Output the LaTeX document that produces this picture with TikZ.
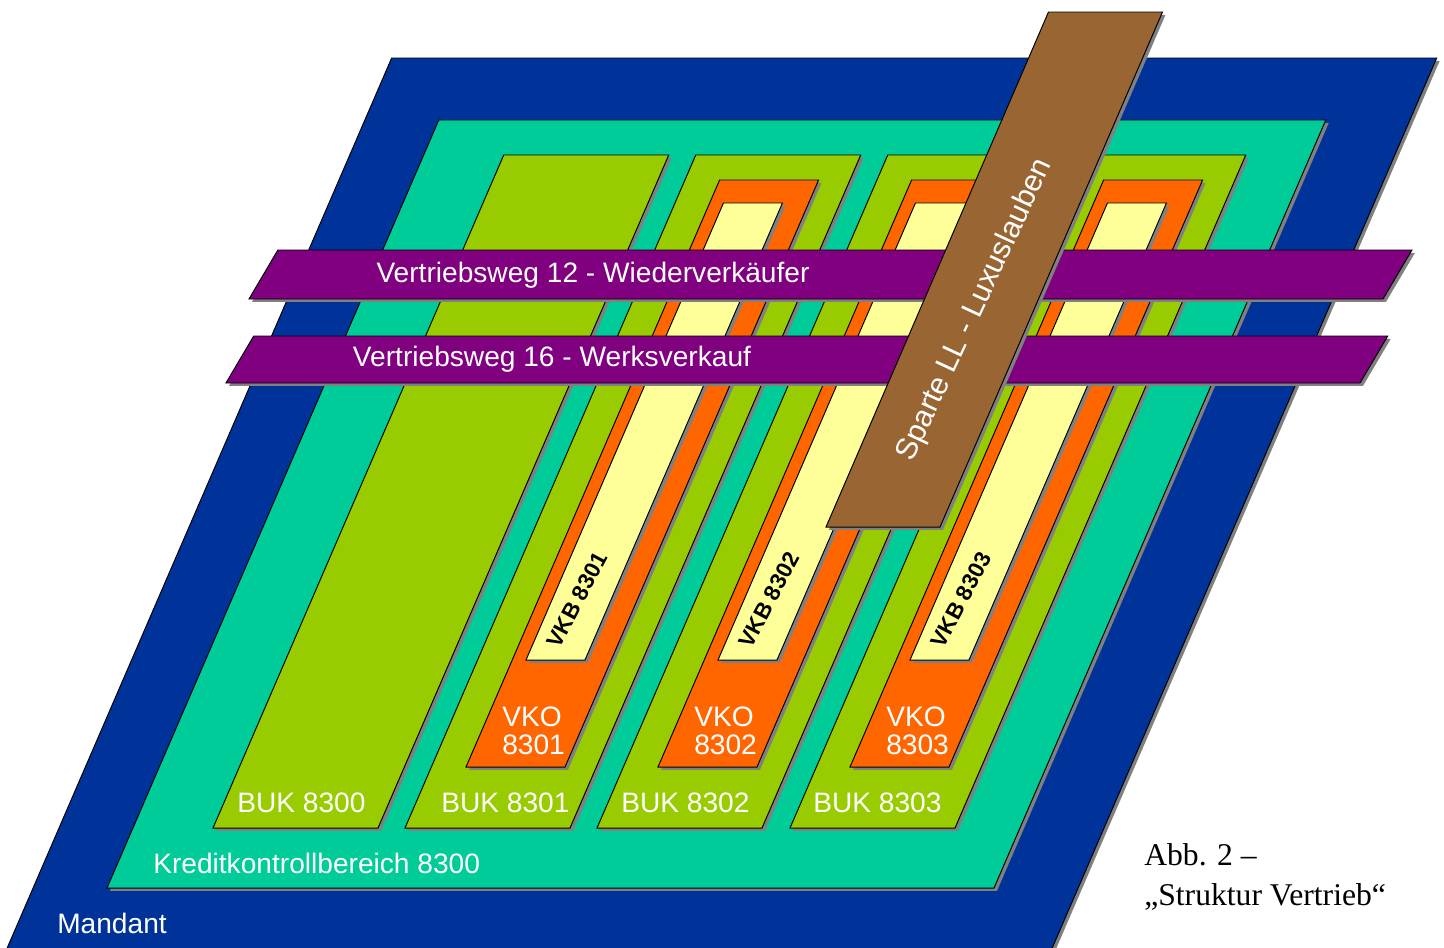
\documentclass[tikz,border=0pt]{standalone}
\usepackage{fontspec}
\setmainfont{Liberation Serif}
\setsansfont{Liberation Sans}
\usetikzlibrary{shadows}
\definecolor{mandant}{HTML}{003399}
\definecolor{kkb}{HTML}{00CC99}
\definecolor{buk}{HTML}{99CC00}
\definecolor{vko}{HTML}{FF6600}
\definecolor{vkb}{HTML}{FFFF99}
\definecolor{weg}{HTML}{800080}
\definecolor{sparte}{HTML}{996633}
\tikzset{
  lay/.style={draw=black, line width=0.7pt, drop shadow={shadow xshift=2.1pt, shadow yshift=-2.1pt, opacity=1, fill=black!50}},
  lbl/.style={text=white, font=\sffamily\fontsize{20}{20}\selectfont, inner sep=0pt},
  vkbl/.style={font=\sffamily\bfseries\fontsize{16}{16}\selectfont, inner sep=0pt, rotate=62},
  captxt/.style={font=\fontsize{22.5}{28}\selectfont, align=left, inner sep=0pt}
}
\newcommand{\slant}{0.432}
% slanted box: colour, x bottom left, y bottom, y top, width
\newcommand{\pgram}[5]{\path[lay,fill=#1] (#2,#3) -- ++(#5,0) -- ({#2+#5+\slant*(#3-#4)},#4) -- ({#2+\slant*(#3-#4)},#4) -- cycle;}

\begin{document}
\begin{tikzpicture}[x=0.025cm,y=-0.025cm]
\clip (0,0) rectangle (1444,947);
\fill[white] (0,0) rectangle (1444,947);
\pgram{mandant}{2}{960}{58}{1045}
\pgram{kkb}{107}{888}{120}{887}
\foreach \x in {213,405,597,790} {\pgram{buk}{\x}{828}{155}{165}}
\foreach \x in {466,658,850} {\pgram{vko}{\x}{767}{180}{99}}
\foreach \x in {526,718,910} {\pgram{vkb}{\x}{660}{203}{59}}
% Vertriebswege
\def\slant{0.59}
\pgram{weg}{249}{299}{250}{1134}
\pgram{weg}{226}{383}{336}{1134}
% Sparte
\def\slant{0.432}
\pgram{sparte}{826}{527}{12}{114}

\node[lbl, anchor=west] (mandantL) at (57,923) {Mandant};
\node[lbl, anchor=west] (kkbL) at (153,863) {Kreditkontrollbereich 8300};
\foreach \x/\n in {237/8300, 441/8301, 621/8302, 813/8303}
  \node[lbl, anchor=west] (buk\n) at (\x,803) {BUK \n};
\foreach \x/\n in {502/8301, 694/8302, 886/8303}
  \node[lbl, anchor=west, align=left] (vko\n) at (\x,731) {VKO\\\n};
\foreach \x/\n in {577/8301, 769/8302, 961/8303}
  \node[vkbl] (vkb\n) at (\x,600) {VKB \n};
\node[lbl] (weg12) at (593,275) {Vertriebsweg 12 - Wiederverkäufer};
\node[lbl] (weg16) at (552,359) {Vertriebsweg 16 - Werksverkauf};
\node[lbl, rotate=65, font=\sffamily\fontsize{21.5}{21.5}\selectfont] (sparteL) at (975,310) {Sparte LL - Luxuslauben};
\node[captxt, anchor=west] (caption) at (1144,877) {Abb. 2 –\\„Struktur Vertrieb“};
\end{tikzpicture}
\end{document}
